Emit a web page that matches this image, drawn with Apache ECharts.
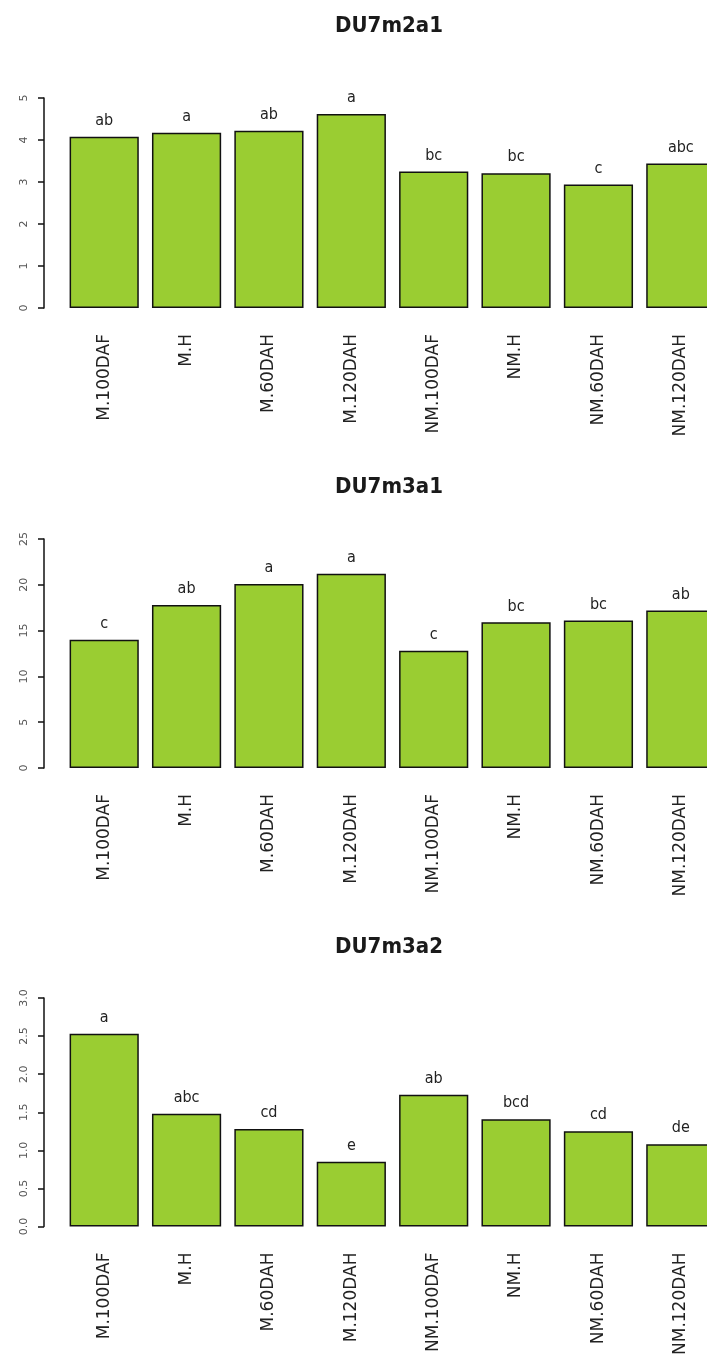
<!DOCTYPE html>
<html>
<head>
<meta charset="utf-8">
<title>DU7 bars</title>
<script src="https://cdn.jsdelivr.net/npm/echarts@6/dist/echarts.min.js"></script>
<style>
  html, body { margin: 0; padding: 0; background: #fff; overflow: hidden; }
  /* a bit wider than the window so the last bar gets cut at the edge, like the original */
  #chart { width: 722px; height: 1358px; }
</style>
</head>
<body>
<div id="chart"></div>
<script>
// categories shared by all three panels
const categories = ['M.100DAF', 'M.H', 'M.60DAH', 'M.120DAH', 'NM.100DAF', 'NM.H', 'NM.60DAH', 'NM.120DAH'];

// DU7m2a1
const du7m2a1 = [4.08, 4.17, 4.22, 4.62, 3.25, 3.21, 2.94, 3.44];
const du7m2a1Groups = ['ab', 'a', 'ab', 'a', 'bc', 'bc', 'c', 'abc'];

// DU7m3a1
const du7m3a1 = [14.0, 17.8, 20.1, 21.2, 12.8, 15.9, 16.1, 17.2];
const du7m3a1Groups = ['c', 'ab', 'a', 'a', 'c', 'bc', 'bc', 'ab'];

// DU7m3a2
const du7m3a2 = [2.53, 1.48, 1.28, 0.85, 1.73, 1.41, 1.25, 1.08];
const du7m3a2Groups = ['a', 'abc', 'cd', 'e', 'ab', 'bcd', 'cd', 'de'];

const panels = [
  { title: 'DU7m2a1', data: du7m2a1, groups: du7m2a1Groups, max: 5, interval: 1, digits: 0, titleTop: 15, top: 98, height: 210 },
  { title: 'DU7m3a1', data: du7m3a1, groups: du7m3a1Groups, max: 25, interval: 5, digits: 0, titleTop: 476, top: 539, height: 229 },
  { title: 'DU7m3a2', data: du7m3a2, groups: du7m3a2Groups, max: 3, interval: 0.5, digits: 1, titleTop: 936, top: 998, height: 232 }
];

const narrow = "'Liberation Sans Narrow', 'DejaVu Sans Condensed', sans-serif";

const chart = echarts.init(document.getElementById('chart'));

const option = {
  backgroundColor: '#fff',
  animation: false,
  title: panels.map((p) => ({
    text: p.title,
    left: 389,
    top: p.titleTop,
    textAlign: 'center',
    padding: 0,
    textStyle: { fontFamily: narrow, fontSize: 22, fontWeight: 'bold', color: '#1a1a1a' }
  })),
  grid: panels.map((p) => ({ left: 63, right: 0, top: p.top, height: p.height })),
  xAxis: panels.map((p, i) => ({
    type: 'category',
    gridIndex: i,
    data: categories,
    axisLine: { show: false },
    axisTick: { show: false },
    axisLabel: {
      interval: 0,
      rotate: 90,
      margin: 26,
      fontFamily: "'DejaVu Sans', sans-serif",
      fontSize: 17,
      color: '#222'
    }
  })),
  yAxis: panels.map((p, i) => ({
    type: 'value',
    gridIndex: i,
    min: 0,
    max: p.max,
    interval: p.interval,
    offset: 19,
    splitLine: { show: false },
    axisLine: { show: true, lineStyle: { color: '#111', width: 1.5 } },
    axisTick: { show: true, length: 6, lineStyle: { color: '#111', width: 1.5 } },
    axisLabel: {
      rotate: 90,
      margin: 14,
      fontFamily: "'DejaVu Sans', sans-serif",
      fontSize: 11,
      color: '#555',
      formatter: (v) => v.toFixed(p.digits)
    }
  })),
  series: panels.map((p, i) => ({
    type: 'bar',
    name: p.title,
    xAxisIndex: i,
    yAxisIndex: i,
    data: p.data,
    barCategoryGap: '16%',
    itemStyle: { color: '#9acd32', borderColor: '#111', borderWidth: 1.5 },
    label: {
      show: true,
      position: 'top',
      distance: 8,
      formatter: (e) => p.groups[e.dataIndex],
      fontFamily: narrow,
      fontSize: 16,
      color: '#222'
    }
  }))
};

chart.setOption(option);
</script>
</body>
</html>
